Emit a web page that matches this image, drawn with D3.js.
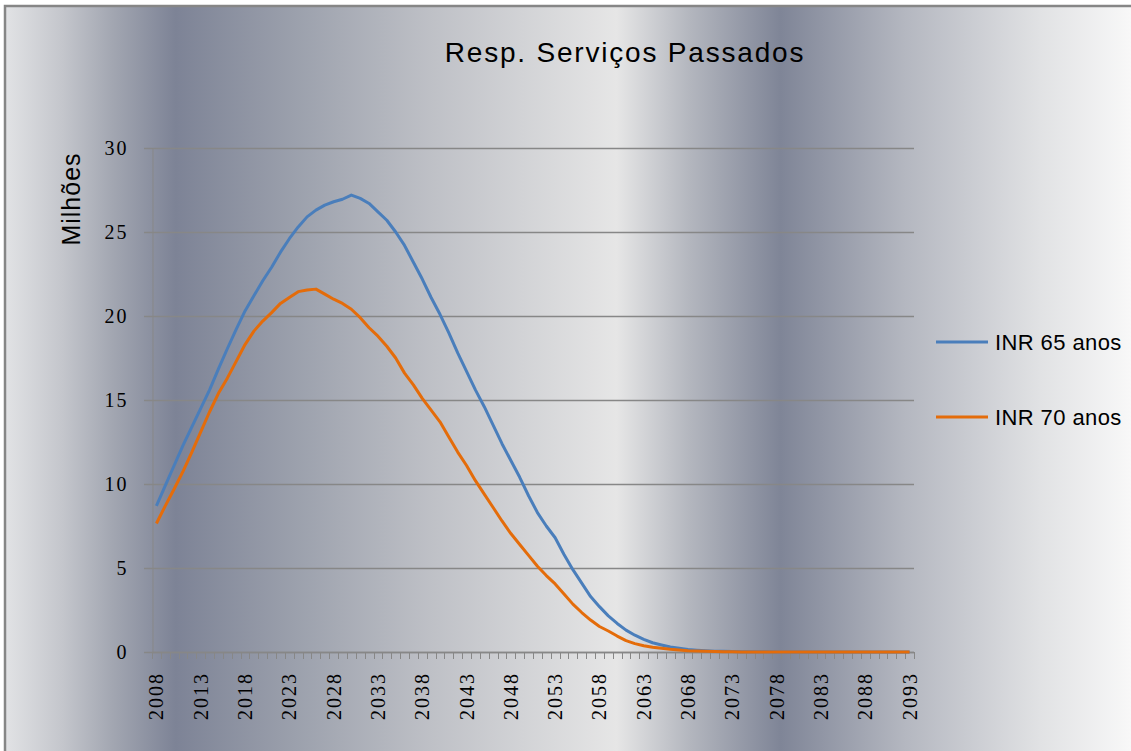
<!DOCTYPE html>
<html>
<head>
<meta charset="utf-8">
<script src="https://cdn.jsdelivr.net/npm/d3@7"></script>
<style>
  html, body { margin: 0; padding: 0; background: #fff; overflow: hidden; }
  svg { display: block; }
</style>
</head>
<body>
<div id="chart"></div>
<script>
//Resp. Serviços Passados - line chart

//Data
const years = d3.range(2008, 2094); // 2008 .. 2093, one value per year
const labelYears = [2008, 2013, 2018, 2023, 2028, 2033, 2038, 2043, 2048, 2053, 2058, 2063, 2068, 2073, 2078, 2083, 2088, 2093];
const yTicks = [0, 5, 10, 15, 20, 25, 30];
const seriesNames = ["INR 65 anos", "INR 70 anos"];
const seriesColors = ["#4a7ebb", "#e46c0a"];

const inr65 = [
  8.7, 9.9, 11.1, 12.3, 13.4, 14.5, 15.6, 16.85, 18.05, 19.2,
  20.3, 21.2, 22.1, 22.9, 23.8, 24.6, 25.3, 25.9, 26.3, 26.6,
  26.8, 26.95, 27.2, 27.0, 26.7, 26.2, 25.7, 25.0, 24.2, 23.2,
  22.2, 21.1, 20.1, 19.0, 17.8, 16.7, 15.6, 14.6, 13.5, 12.4,
  11.4, 10.4, 9.3, 8.3, 7.5, 6.8, 5.8, 4.9, 4.1, 3.3,
  2.7, 2.15, 1.7, 1.3, 1.0, 0.75, 0.55, 0.42, 0.3, 0.22,
  0.15, 0.11, 0.08, 0.05, 0.04, 0.03, 0.02, 0.02, 0.01, 0.01,
  0, 0, 0, 0, 0, 0, 0, 0, 0, 0,
  0, 0, 0, 0, 0, 0
];

const inr70 = [
  7.65, 8.7, 9.7, 10.75, 11.9, 13.1, 14.3, 15.4, 16.3, 17.3,
  18.3, 19.1, 19.7, 20.2, 20.75, 21.1, 21.45, 21.55, 21.6, 21.3,
  21.0, 20.75, 20.4, 19.9, 19.3, 18.8, 18.2, 17.5, 16.6, 15.9,
  15.1, 14.4, 13.7, 12.8, 11.9, 11.1, 10.2, 9.4, 8.6, 7.8,
  7.05, 6.4, 5.75, 5.1, 4.55, 4.05, 3.45, 2.85, 2.35, 1.9,
  1.52, 1.25, 0.95, 0.68, 0.5, 0.37, 0.28, 0.22, 0.16, 0.12,
  0.08, 0.06, 0.04, 0.03, 0.02, 0.01, 0, 0, 0, 0,
  0, 0, 0, 0, 0, 0, 0, 0, 0, 0,
  0, 0, 0, 0, 0, 0
];

//Parameters
const w = 1131;
const h = 751;
const plot = { left: 152, right: 914, top: 148, bottom: 652 };
const gridColor = "#878787";
const serif = "'Liberation Serif', 'Times New Roman', serif";
const sans = "'Liberation Sans', Arial, sans-serif";

const svg = d3.select("#chart")
  .append("svg")
  .attr("width", w)
  .attr("height", h);

//Background gradient (metallic bands)
const grad = svg.append("defs")
  .append("linearGradient")
  .attr("id", "bg")
  .attr("gradientUnits", "userSpaceOnUse")
  .attr("x1", 0).attr("y1", 0)
  .attr("x2", w).attr("y2", 0);

[[0, "#e4e5e7"], [0.055, "#c4c6cc"], [0.10, "#a2a6b1"], [0.155, "#7d8396"],
 [0.26, "#9ba0ac"], [0.38, "#bec0c6"], [0.545, "#e6e6e6"], [0.61, "#b3b6be"],
 [0.69, "#7f8597"], [0.80, "#b4b7c0"], [0.92, "#e1e2e4"], [1, "#f8f8f8"]]
  .forEach(s => grad.append("stop").attr("offset", s[0]).attr("stop-color", s[1]));

svg.append("rect")
  .attr("x", 5).attr("y", 6)
  .attr("width", w + 20).attr("height", h + 20)
  .attr("fill", "url(#bg)")
  .attr("stroke", "#868686")
  .attr("stroke-width", 2.5);

//Scales
const x = d3.scaleBand()
  .domain(years)
  .range([plot.left, plot.right]);

const y = d3.scaleLinear()
  .domain([0, 30])
  .range([plot.bottom, plot.top]);

const cx = d => x(d) + x.bandwidth() / 2;

//Gridlines
svg.append("g")
  .selectAll("line")
  .data(yTicks)
  .enter()
  .append("line")
  .attr("x1", plot.left - 8)
  .attr("x2", plot.right)
  .attr("y1", d => y(d) + 0.5)
  .attr("y2", d => y(d) + 0.5)
  .attr("stroke", gridColor)
  .attr("stroke-width", 1.3);

//Y axis
const yAxis = svg.append("g")
  .attr("transform", "translate(" + (plot.left + 0.5) + ",0)")
  .call(d3.axisLeft(y).tickValues(yTicks).tickSize(0).tickPadding(24));

yAxis.select(".domain").attr("stroke", gridColor);
yAxis.selectAll("text")
  .attr("fill", "#000")
  .style("font-family", serif)
  .style("font-size", "20px")
  .style("letter-spacing", "2px");

//X axis
svg.append("line")
  .attr("x1", plot.left)
  .attr("x2", plot.right)
  .attr("y1", plot.bottom + 0.5)
  .attr("y2", plot.bottom + 0.5)
  .attr("stroke", gridColor)
  .attr("stroke-width", 1.5);

svg.append("g")
  .selectAll("line")
  .data(years.map(d => x(d)).concat([plot.right]))
  .enter()
  .append("line")
  .attr("x1", d => Math.round(d) + 0.5)
  .attr("x2", d => Math.round(d) + 0.5)
  .attr("y1", plot.bottom)
  .attr("y2", plot.bottom + 7)
  .attr("stroke", gridColor);

svg.append("g")
  .selectAll("text")
  .data(labelYears)
  .enter()
  .append("text")
  .attr("transform", d => "translate(" + cx(d) + "," + (plot.bottom + 20) + ") rotate(-90)")
  .attr("text-anchor", "end")
  .attr("dominant-baseline", "central")
  .style("font-family", serif)
  .style("font-size", "20px")
  .style("letter-spacing", "2px")
  .text(d => d);

//Lines
const line = d3.line()
  .x((d, i) => cx(years[i]))
  .y(d => y(d));

[inr65, inr70].forEach((values, i) => {
  svg.append("path")
    .datum(values)
    .attr("fill", "none")
    .attr("stroke", seriesColors[i])
    .attr("stroke-width", 3)
    .attr("stroke-linejoin", "round")
    .attr("d", line);
});

//Title
svg.append("text")
  .attr("x", 625)
  .attr("y", 62)
  .attr("text-anchor", "middle")
  .style("font-family", sans)
  .style("font-size", "28px")
  .style("letter-spacing", "1.8px")
  .text("Resp. Serviços Passados");

//Y axis title
svg.append("text")
  .attr("transform", "translate(80,199) rotate(-90)")
  .attr("text-anchor", "middle")
  .style("font-family", sans)
  .style("font-size", "25px")
  .style("letter-spacing", "1px")
  .text("Milhões");

//Legend
const legendItems = svg.append("g")
  .attr("id", "legend")
  .selectAll("g")
  .data(seriesNames)
  .enter()
  .append("g")
  .attr("transform", (d, i) => "translate(936," + (342 + i * 75) + ")");

legendItems.append("line")
  .attr("x1", 0).attr("x2", 52)
  .attr("stroke", (d, i) => seriesColors[i])
  .attr("stroke-width", 3);

legendItems.append("text")
  .attr("x", 59)
  .attr("y", 8)
  .style("font-family", sans)
  .style("font-size", "22px")
  .style("letter-spacing", "0.4px")
  .text(d => d);
</script>
</body>
</html>
